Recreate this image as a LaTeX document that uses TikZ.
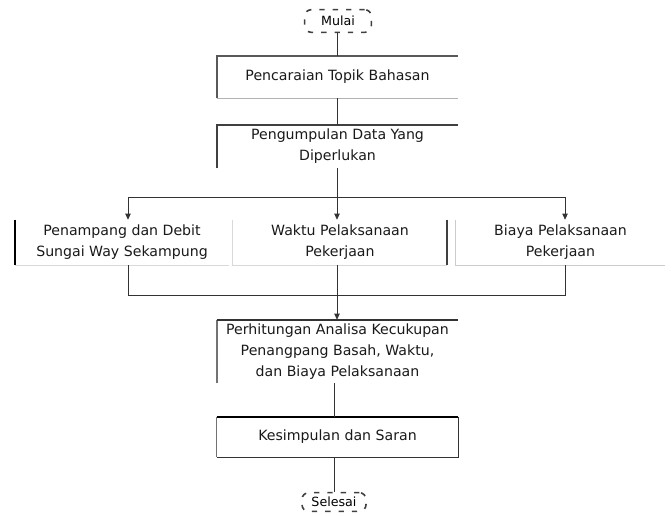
\documentclass[tikz,border=0pt]{standalone}
\usepackage{fontspec}
\setmainfont{DejaVu Sans}
\usetikzlibrary{arrows.meta}

\begin{document}
\begin{tikzpicture}[x=0.75pt,y=-0.75pt,
  font=\fontsize{10.6}{15.75}\selectfont,
  box/.style={inner sep=0pt, align=center, text=black!90},
  term/.style={draw=black!75, line width=1.2pt, rounded corners=5pt,
    dash pattern=on 4pt off 6pt, inner sep=0pt, align=center,
    font=\fontsize{9.5}{11}\selectfont},
  thick edge/.style={draw=black!65, line width=1.6pt},
  thin edge/.style={draw=black!30, line width=0.6pt},
  link/.style={draw=black!80, line width=0.6pt},
  arr/.style={link, -{Triangle[width=4pt,length=4.5pt]}}]
\useasboundingbox (0,0) rectangle (672,515);
% start and end
\node[term, minimum width=50pt, minimum height=17pt] (mulai) at (338,21) {Mulai};
\node[term, minimum width=48pt, minimum height=14pt] (selesai) at (334,502) {Selesai};
% main boxes
\node[box, minimum width=180.75pt, minimum height=31.5pt] (topik) at (337.5,77) {Pencaraian Topik Bahasan};
\node[box, minimum width=180.75pt, minimum height=32.25pt] (data) at (337.5,146.5) {Pengumpulan Data Yang\\Diperlukan};
\node[box, minimum width=159.75pt, minimum height=33.75pt] (sungai) at (122,242.5) {Penampang dan Debit\\Sungai Way Sekampung};
\node[box, minimum width=160.5pt, minimum height=33.75pt] (waktu) at (340,242.5) {Waktu Pelaksanaan\\Pekerjaan};
\node[box, minimum width=156.75pt, minimum height=33.75pt] (biaya) at (560.5,242.5) {Biaya Pelaksanaan\\Pekerjaan};
\node[box, minimum width=180.75pt, minimum height=47.25pt] (analisa) at (337.5,351.5) {Perhitungan Analisa Kecukupan\\Penangpang Basah, Waktu,\\dan Biaya Pelaksanaan};
\node[box, minimum width=180.75pt, minimum height=30pt] (simpulan) at (337.5,437) {Kesimpulan dan Saran};
% box edges
\draw[thick edge] (topik.south west) -- (topik.north west) -- (topik.north east);
\draw[thin edge] (topik.south west) -- (topik.south east);
\draw[thick edge, draw=black!75] (data.south west) -- (data.north west) -- (data.north east);
\draw[thick edge, draw=black] (sungai.north west) -- (sungai.south west);
\draw[thin edge, draw=black!15] (sungai.south west) -- (sungai.south east);
\draw[thin edge, draw=black!15] (waktu.north west) -- (waktu.south west) -- (waktu.south east);
\draw[thick edge, draw=black!75] (waktu.north east) -- (waktu.south east);
\draw[thin edge, draw=black!20] (biaya.north west) -- (biaya.south west) -- (biaya.south east);
\draw[thick edge, draw=black!55] (analisa.south west) -- (analisa.north west);
\draw[thick edge, draw=black!80] (analisa.north west) -- (analisa.north east);
\draw[thin edge, draw=black!80] (simpulan.north east) -- (simpulan.south east) -- (simpulan.south west);
\draw[thick edge, draw=black!55, line width=1pt] (simpulan.south west) -- (simpulan.north west);
\draw[thick edge, draw=black] (simpulan.north west) -- (simpulan.north east);
% connectors
\coordinate (bagi) at (337,197);
\coordinate (gabung) at (337,295);
\draw[link] (mulai.south -| topik.north) -- (topik.north);
\draw[link] (topik.south -| bagi) -- (data.north -| bagi);
\draw[link] (data.south -| bagi) -- (bagi);
\draw[arr] (bagi) -| ([xshift=4.5pt]sungai.north);
\draw[arr] (bagi) -| ([xshift=3.4pt]biaya.north);
\draw[arr] (bagi) -- (waktu.north -| bagi);
\draw[link] ([xshift=4.5pt]sungai.south) |- (gabung);
\draw[link] ([xshift=3.4pt]biaya.south) |- (gabung);
\draw[arr] (waktu.south -| gabung) -- (analisa.north -| gabung);
\draw[link] (analisa.south -| selesai) -- (simpulan.north -| selesai);
\draw[link] (simpulan.south -| selesai) -- (selesai.north);
\end{tikzpicture}
\end{document}
